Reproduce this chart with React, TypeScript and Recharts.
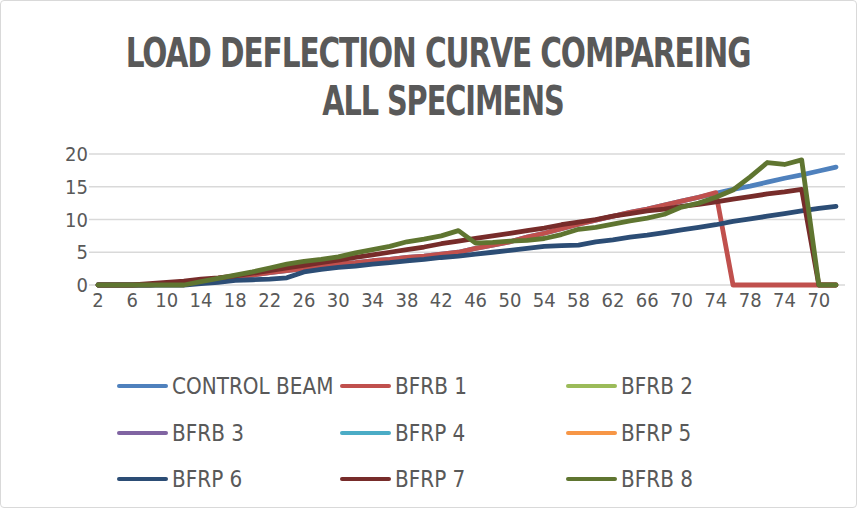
import React from "react";
import { LineChart, Line, XAxis, YAxis, CartesianGrid } from "recharts";

const FONT = "'DejaVu Sans', sans-serif";
const TEXT = "#595959";

// deflection readings: up to 78, then the unloading part back down
const CATEGORIES = [
  "2", "4", "6", "8", "10", "12", "14", "16", "18", "20", "22", "24", "26", "28", "30", "32", "34", "36", "38", "40",
  "42", "44", "46", "48", "50", "52", "54", "56", "58", "60", "62", "64", "66", "68", "70", "72", "74", "76", "78",
  "76", "74", "72", "70", "68",
];

const CONTROL_BEAM = [
  0, 0, 0, 0, 0.2, 0.4, 0.7, 1.0, 1.2, 1.5, 1.9, 2.2, 2.5, 2.9, 3.2, 3.4, 3.7, 3.9, 4.2, 4.4,
  4.7, 5.0, 5.6, 6.1, 6.6, 7.3, 7.9, 8.6, 9.3, 9.9, 10.5, 11.1, 11.6, 12.2, 12.8, 13.4, 14.0, 14.6, 15.1,
  15.7, 16.3, 16.8, 17.4, 18.0,
];
const BFRB_1 = [
  0, 0, 0, 0, 0.2, 0.4, 0.7, 1.0, 1.2, 1.5, 1.9, 2.2, 2.5, 2.9, 3.2, 3.4, 3.7, 3.9, 4.2, 4.4,
  4.7, 5.0, 5.6, 6.1, 6.6, 7.3, 7.9, 8.6, 9.3, 9.9, 10.5, 11.1, 11.6, 12.2, 12.8, 13.4, 14.1, 0, 0,
  0, 0, 0, 0, 0,
];
// no visible trace for these four in the source chart
const BFRB_2: (number | null)[] = [];
const BFRB_3: (number | null)[] = [];
const BFRP_4: (number | null)[] = [];
const BFRP_5: (number | null)[] = [];
const BFRP_6 = [
  0, 0, 0, 0, 0, 0, 0.2, 0.4, 0.7, 0.8, 0.9, 1.1, 2.0, 2.4, 2.7, 2.9, 3.2, 3.4, 3.7, 3.9,
  4.2, 4.4, 4.7, 5.0, 5.3, 5.6, 5.9, 6.0, 6.1, 6.6, 6.9, 7.3, 7.6, 8.0, 8.4, 8.8, 9.2, 9.7, 10.1,
  10.5, 10.9, 11.3, 11.7, 12.0,
];
const BFRP_7 = [
  0, 0, 0, 0.2, 0.4, 0.6, 0.9, 1.1, 1.4, 1.8, 2.2, 2.6, 3.0, 3.4, 3.8, 4.2, 4.6, 5.0, 5.4, 5.8,
  6.3, 6.7, 7.1, 7.5, 7.9, 8.3, 8.7, 9.2, 9.6, 10.0, 10.5, 10.9, 11.3, 11.6, 12.0, 12.3, 12.7, 13.1, 13.5,
  13.9, 14.2, 14.6, 0, 0,
];
const BFRB_8 = [
  0, 0, 0, 0, 0, 0, 0.5, 1.0, 1.5, 2.0, 2.6, 3.2, 3.6, 3.9, 4.3, 4.9, 5.4, 5.9, 6.6, 7.0,
  7.5, 8.3, 6.4, 6.5, 6.7, 6.8, 7.1, 7.7, 8.5, 8.8, 9.3, 9.8, 10.2, 10.8, 11.9, 12.5, 13.4, 14.5, 16.5,
  18.7, 18.4, 19.1, 0, 0,
];

const Y_TICKS = [0, 5, 10, 15, 20];

const SERIES = [
  { key: "CONTROL BEAM", values: CONTROL_BEAM, color: "#4F81BD" },
  { key: "BFRB 1", values: BFRB_1, color: "#C0504D" },
  { key: "BFRB 2", values: BFRB_2, color: "#9BBB59" },
  { key: "BFRB 3", values: BFRB_3, color: "#8064A2" },
  { key: "BFRP 4", values: BFRP_4, color: "#4BACC6" },
  { key: "BFRP 5", values: BFRP_5, color: "#F79646" },
  { key: "BFRP 6", values: BFRP_6, color: "#2C4D75" },
  { key: "BFRP 7", values: BFRP_7, color: "#772C2A" },
  { key: "BFRB 8", values: BFRB_8, color: "#5F7530" },
];

const data = CATEGORIES.map((c, i) => {
  const row: Record<string, any> = { x: c };
  SERIES.forEach((s) => {
    row[s.key] = s.values[i] ?? null;
  });
  return row;
});

const LEGEND_COLS = [117, 340, 566];
const LEGEND_ROWS = [386, 433, 479];

// narrow-looking tick text (the original uses a condensed face)
const XTick = ({ x, y, payload }: any) => (
  <text transform={`translate(${x},${y + 14}) scale(0.9,1)`} textAnchor="middle" fontSize={20} fill={TEXT} fontFamily={FONT}>
    {payload.value}
  </text>
);
const YTick = ({ x, y, payload }: any) => (
  <text transform={`translate(${x},${y + 7}) scale(0.9,1)`} textAnchor="end" fontSize={20} fill={TEXT} fontFamily={FONT}>
    {payload.value}
  </text>
);

export default function App() {
  return (
    <div style={{ position: "absolute", left: 0, top: 0, width: 862, height: 509, background: "#fff", fontFamily: FONT }}>
      <div style={{ position: "absolute", left: 0, top: 0, width: 855, height: 506, border: "1px solid #D9D9D9", borderRadius: 4 }} />
      <svg width={862} height={130} style={{ position: "absolute", left: 0, top: 0 }}>
        <text transform="translate(438,67) scale(0.74,1)" textAnchor="middle" fontSize={40} fontWeight="bold" fill={TEXT} fontFamily={FONT}
          letterSpacing={-1.5}>LOAD DEFLECTION CURVE COMPAREING</text>
        <text transform="translate(443,115) scale(0.72,1)" textAnchor="middle" fontSize={40} fontWeight="bold" fill={TEXT} fontFamily={FONT}
          letterSpacing={-1.5}>ALL SPECIMENS</text>
      </svg>
      <div style={{ position: "absolute", left: 0, top: 0 }}>
        <LineChart width={862} height={509} data={data} margin={{ top: 154, right: 17, bottom: 194, left: 39 }}>
          <CartesianGrid vertical={false} stroke="#D9D9D9" strokeWidth={1.5} />
          <XAxis dataKey="x" interval={1} tickLine={false} axisLine={false} padding={{ left: 9, right: 9 }}
            height={30} tick={<XTick />} />
          <YAxis domain={[0, 20]} ticks={Y_TICKS} width={50} tickLine={false} axisLine={false} tickSize={0} tickMargin={1}
            tick={<YTick />} />
          {SERIES.map((s) => (
            <Line key={s.key} type="linear" dataKey={s.key} stroke={s.color} strokeWidth={4.8} dot={false}
              strokeLinejoin="round" strokeLinecap="round" isAnimationActive={false} />
          ))}
        </LineChart>
      </div>
      {SERIES.map((s, i) => (
        <div key={s.key} style={{ position: "absolute", left: LEGEND_COLS[i % 3], top: LEGEND_ROWS[Math.floor(i / 3)] - 15,
          height: 30, display: "flex", alignItems: "center", whiteSpace: "nowrap" }}>
          <div style={{ width: 51, height: 4.5, borderRadius: 2, background: s.color, marginRight: 4 }} />
          <span style={{ fontSize: 23, color: TEXT, display: "inline-block", transform: "scaleX(0.87)", transformOrigin: "left center" }}>
            {s.key}
          </span>
        </div>
      ))}
    </div>
  );
}
